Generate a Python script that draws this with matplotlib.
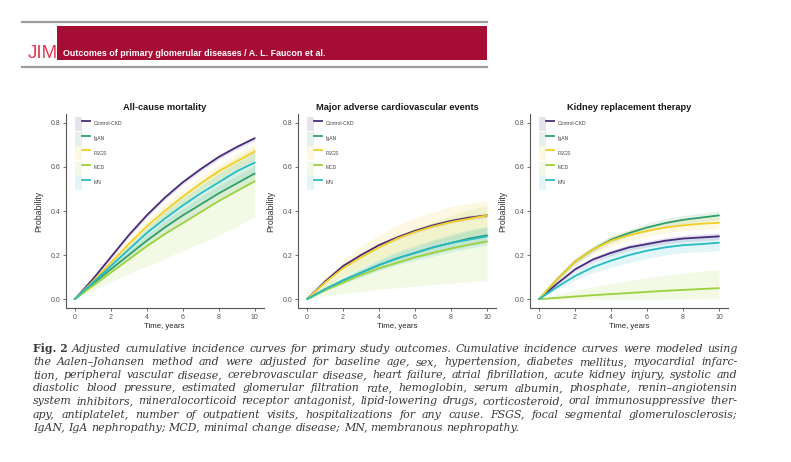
import matplotlib
matplotlib.use("Agg")
import matplotlib.pyplot as plt
from matplotlib import font_manager
from matplotlib.patches import Rectangle, Patch
from matplotlib.lines import Line2D
from matplotlib.legend_handler import HandlerTuple

W, H = 791, 462

YEARS = [0, 1, 2, 3, 4, 5, 6, 7, 8, 9, 10]
GROUPS = ["Control-CKD", "IgAN", "FSGS", "MCD", "MN"]
COLORS = ["#4a2b7c", "#2f9e6a", "#f3cf24", "#9bd23c", "#26bcc6"]
TITLES = ["All-cause mortality", "Major adverse cardiovascular events",
          "Kidney replacement therapy"]
Y_TICKS = [0.0, 0.2, 0.4, 0.6, 0.8]
X_TICKS = [0, 2, 4, 6, 8, 10]

# all-cause mortality
ACM_CONTROL = [0, 0.09, 0.19, 0.29, 0.38, 0.46, 0.53, 0.59, 0.645, 0.69, 0.73]
ACM_CONTROL_LO = [0, 0.085, 0.18, 0.28, 0.37, 0.45, 0.52, 0.58, 0.635, 0.68, 0.72]
ACM_CONTROL_HI = [0, 0.095, 0.20, 0.30, 0.39, 0.47, 0.54, 0.60, 0.655, 0.70, 0.74]
ACM_IGAN = [0, 0.07, 0.135, 0.20, 0.265, 0.325, 0.38, 0.43, 0.48, 0.525, 0.57]
ACM_IGAN_LO = [0, 0.06, 0.12, 0.18, 0.24, 0.295, 0.35, 0.40, 0.445, 0.49, 0.535]
ACM_IGAN_HI = [0, 0.08, 0.15, 0.22, 0.29, 0.355, 0.41, 0.465, 0.515, 0.56, 0.605]
ACM_FSGS = [0, 0.08, 0.165, 0.25, 0.33, 0.40, 0.465, 0.525, 0.58, 0.625, 0.67]
ACM_FSGS_LO = [0, 0.07, 0.15, 0.23, 0.305, 0.375, 0.435, 0.495, 0.545, 0.59, 0.635]
ACM_FSGS_HI = [0, 0.09, 0.18, 0.27, 0.355, 0.43, 0.495, 0.555, 0.61, 0.66, 0.705]
ACM_MCD = [0, 0.06, 0.12, 0.18, 0.24, 0.295, 0.345, 0.395, 0.445, 0.49, 0.535]
ACM_MCD_LO = [0, 0.04, 0.08, 0.115, 0.15, 0.185, 0.22, 0.255, 0.29, 0.33, 0.375]
ACM_MCD_HI = [0, 0.08, 0.165, 0.245, 0.325, 0.40, 0.47, 0.535, 0.595, 0.645, 0.69]
ACM_MN = [0, 0.075, 0.15, 0.225, 0.30, 0.365, 0.425, 0.48, 0.53, 0.58, 0.62]
ACM_MN_LO = [0, 0.065, 0.135, 0.205, 0.275, 0.335, 0.39, 0.445, 0.49, 0.535, 0.575]
ACM_MN_HI = [0, 0.085, 0.165, 0.245, 0.325, 0.395, 0.46, 0.515, 0.57, 0.62, 0.665]

# major adverse cardiovascular events
MACE_CONTROL = [0, 0.08, 0.15, 0.20, 0.245, 0.28, 0.31, 0.335, 0.355, 0.37, 0.38]
MACE_CONTROL_LO = [0, 0.075, 0.14, 0.19, 0.235, 0.27, 0.30, 0.325, 0.345, 0.36, 0.37]
MACE_CONTROL_HI = [0, 0.085, 0.16, 0.21, 0.255, 0.29, 0.32, 0.345, 0.365, 0.38, 0.39]
MACE_IGAN = [0, 0.045, 0.085, 0.12, 0.155, 0.185, 0.21, 0.235, 0.255, 0.275, 0.29]
MACE_IGAN_LO = [0, 0.04, 0.075, 0.105, 0.135, 0.16, 0.185, 0.205, 0.225, 0.24, 0.255]
MACE_IGAN_HI = [0, 0.05, 0.095, 0.135, 0.175, 0.21, 0.235, 0.265, 0.285, 0.31, 0.325]
MACE_FSGS = [0, 0.075, 0.14, 0.19, 0.235, 0.275, 0.305, 0.33, 0.35, 0.365, 0.38]
MACE_FSGS_LO = [0, 0.055, 0.105, 0.145, 0.18, 0.21, 0.235, 0.255, 0.275, 0.29, 0.305]
MACE_FSGS_HI = [0, 0.095, 0.175, 0.24, 0.29, 0.335, 0.37, 0.395, 0.42, 0.435, 0.445]
MACE_MCD = [0, 0.04, 0.075, 0.11, 0.14, 0.165, 0.19, 0.21, 0.23, 0.247, 0.262]
MACE_MCD_LO = [0, 0.015, 0.025, 0.035, 0.045, 0.052, 0.06, 0.067, 0.073, 0.079, 0.085]
MACE_MCD_HI = [0, 0.07, 0.13, 0.19, 0.24, 0.28, 0.32, 0.35, 0.38, 0.405, 0.425]
MACE_MN = [0, 0.045, 0.085, 0.12, 0.155, 0.185, 0.21, 0.235, 0.255, 0.27, 0.285]
MACE_MN_LO = [0, 0.035, 0.07, 0.10, 0.13, 0.155, 0.175, 0.195, 0.215, 0.23, 0.245]
MACE_MN_HI = [0, 0.055, 0.10, 0.14, 0.18, 0.215, 0.245, 0.27, 0.295, 0.315, 0.33]

# kidney replacement therapy
KRT_CONTROL = [0, 0.07, 0.135, 0.18, 0.21, 0.235, 0.25, 0.265, 0.275, 0.28, 0.285]
KRT_CONTROL_LO = [0, 0.062, 0.125, 0.168, 0.197, 0.222, 0.237, 0.251, 0.26, 0.265, 0.27]
KRT_CONTROL_HI = [0, 0.078, 0.145, 0.192, 0.223, 0.248, 0.263, 0.279, 0.29, 0.295, 0.30]
KRT_IGAN = [0, 0.09, 0.17, 0.225, 0.27, 0.30, 0.325, 0.345, 0.36, 0.37, 0.38]
KRT_IGAN_LO = [0, 0.08, 0.155, 0.21, 0.255, 0.285, 0.305, 0.325, 0.34, 0.35, 0.36]
KRT_IGAN_HI = [0, 0.10, 0.185, 0.24, 0.285, 0.315, 0.345, 0.365, 0.38, 0.39, 0.40]
KRT_FSGS = [0, 0.09, 0.17, 0.225, 0.265, 0.29, 0.31, 0.325, 0.335, 0.342, 0.347]
KRT_FSGS_LO = [0, 0.08, 0.155, 0.205, 0.24, 0.265, 0.285, 0.30, 0.31, 0.316, 0.32]
KRT_FSGS_HI = [0, 0.10, 0.185, 0.245, 0.29, 0.315, 0.335, 0.35, 0.36, 0.368, 0.374]
KRT_MCD = [0, 0.006, 0.012, 0.018, 0.023, 0.028, 0.033, 0.038, 0.042, 0.046, 0.05]
KRT_MCD_LO = [0, 0, 0, 0, 0, 0, 0, 0.001, 0.001, 0.002, 0.002]
KRT_MCD_HI = [0, 0.02, 0.04, 0.055, 0.07, 0.085, 0.097, 0.108, 0.118, 0.127, 0.135]
KRT_MN = [0, 0.055, 0.105, 0.145, 0.175, 0.20, 0.22, 0.235, 0.245, 0.25, 0.256]
KRT_MN_LO = [0, 0.045, 0.085, 0.12, 0.145, 0.165, 0.185, 0.20, 0.21, 0.215, 0.22]
KRT_MN_HI = [0, 0.065, 0.125, 0.17, 0.205, 0.235, 0.255, 0.27, 0.28, 0.286, 0.292]

PANELS = [
    [(ACM_CONTROL, ACM_CONTROL_LO, ACM_CONTROL_HI), (ACM_IGAN, ACM_IGAN_LO, ACM_IGAN_HI),
     (ACM_FSGS, ACM_FSGS_LO, ACM_FSGS_HI), (ACM_MCD, ACM_MCD_LO, ACM_MCD_HI),
     (ACM_MN, ACM_MN_LO, ACM_MN_HI)],
    [(MACE_CONTROL, MACE_CONTROL_LO, MACE_CONTROL_HI), (MACE_IGAN, MACE_IGAN_LO, MACE_IGAN_HI),
     (MACE_FSGS, MACE_FSGS_LO, MACE_FSGS_HI), (MACE_MCD, MACE_MCD_LO, MACE_MCD_HI),
     (MACE_MN, MACE_MN_LO, MACE_MN_HI)],
    [(KRT_CONTROL, KRT_CONTROL_LO, KRT_CONTROL_HI), (KRT_IGAN, KRT_IGAN_LO, KRT_IGAN_HI),
     (KRT_FSGS, KRT_FSGS_LO, KRT_FSGS_HI), (KRT_MCD, KRT_MCD_LO, KRT_MCD_HI),
     (KRT_MN, KRT_MN_LO, KRT_MN_HI)],
]

HEADER = "Outcomes of primary glomerular diseases / A. L. Faucon et al."
CAPTION = [
    "Fig. 2 Adjusted cumulative incidence curves for primary study outcomes. Cumulative incidence curves were modeled using",
    "the Aalen–Johansen method and were adjusted for baseline age, sex, hypertension, diabetes mellitus, myocardial infarc-",
    "tion, peripheral vascular disease, cerebrovascular disease, heart failure, atrial fibrillation, acute kidney injury, systolic and",
    "diastolic blood pressure, estimated glomerular filtration rate, hemoglobin, serum albumin, phosphate, renin–angiotensin",
    "system inhibitors, mineralocorticoid receptor antagonist, lipid-lowering drugs, corticosteroid, oral immunosuppressive ther-",
    "apy, antiplatelet, number of outpatient visits, hospitalizations for any cause. FSGS, focal segmental glomerulosclerosis;",
    "IgAN, IgA nephropathy; MCD, minimal change disease; MN, membranous nephropathy.",
]

names = {f.name for f in font_manager.fontManager.ttflist}
NARROW = "Liberation Sans Narrow" if "Liberation Sans Narrow" in names else "Liberation Sans"
plt.rcParams["font.family"] = ["Liberation Sans", "DejaVu Sans"]


def px(x, y):
    return x / W, 1 - y / H


fig = plt.figure(figsize=(W / 100, H / 100), dpi=100)
fig.patch.set_facecolor("white")

# journal header
for yy in (22, 67):
    fig.add_artist(Line2D([22 / W, 487 / W], [1 - yy / H] * 2, color="#9c9c9c", lw=1.6))
fig.add_artist(Rectangle(px(57, 60), 430 / W, 34 / H, facecolor="#a50d35",
                         edgecolor="none"))
fig.text(*px(27.5, 57.5), "JIM", color="#e2394f", fontsize=13.5, family=NARROW,
         va="baseline", ha="left")
fig.text(*px(63, 56), HEADER, color="white", fontsize=6.4, family=NARROW,
         fontweight="bold", va="baseline", ha="left")

# panels
lefts = [65.7, 298.0, 530.0]
for left, title, series in zip(lefts, TITLES, PANELS):
    ax = fig.add_axes([left / W, (H - 308) / H, 198 / W, 194 / H])
    handles = []
    for name, color, (est, lo, hi) in zip(GROUPS, COLORS, series):
        ax.fill_between(YEARS, lo, hi, color=color, alpha=0.13, lw=0)
        ax.plot(YEARS, est, color=color, lw=1.3, solid_capstyle="round")
        handles.append((Patch(facecolor=color, alpha=0.13, edgecolor="none"),
                        Line2D([], [], color=color, lw=1.3)))
    ax.set_xlim(-0.5, 10.5)
    ax.set_ylim(-0.04, 0.84)
    ax.set_xticks(X_TICKS)
    ax.set_yticks(Y_TICKS)
    ax.set_yticklabels([f"{v:.1f}" for v in Y_TICKS])
    for s in ("top", "right"):
        ax.spines[s].set_visible(False)
    for s in ("left", "bottom"):
        ax.spines[s].set_color("#555555")
        ax.spines[s].set_linewidth(0.8)
    ax.tick_params(length=2.5, width=0.6, color="#555555", labelsize=5,
                   labelcolor="#555555", pad=1.5)
    ax.set_title(title, fontsize=6.7, fontweight="bold", color="#1a1a1a", pad=3)
    ax.set_xlabel("Time, years", fontsize=5.6, color="#222222")
    ax.set_ylabel("Probability", fontsize=6.3, color="#333333")
    ax.xaxis.set_label_coords(0.5, -0.075)
    ax.yaxis.set_label_coords(-0.115, 0.5)
    ax.legend(handles, GROUPS, handler_map={tuple: HandlerTuple(ndivide=None)},
              loc="upper left", bbox_to_anchor=(0.045, 0.985), frameon=False,
              fontsize=3.6, labelcolor="#444444", handlelength=3.0,
              handleheight=4.0, labelspacing=0.08, handletextpad=0.8,
              borderpad=0, borderaxespad=0)

# caption: size chosen so the widest line fits, then each line justified
renderer = fig.canvas.get_renderer()
cap_kw = dict(family="DejaVu Serif", color="#3a3a3a", va="baseline", ha="left")
x0, x1 = 33.0, 737.5
probe = [fig.text(0, 0, ln, fontsize=10, fontstyle="italic", **cap_kw) for ln in CAPTION]
widest = max(t.get_window_extent(renderer).width for t in probe)
for t in probe:
    t.remove()
size = 10 * (x1 - x0) * 0.985 / widest

for i, line in enumerate(CAPTION):
    words = line.split()
    y = 351.8 + 13.15 * i
    texts = []
    j = 0
    while j < len(words):
        if i == 0 and j == 0:
            t = fig.text(0, 1 - y / H, "Fig. 2", fontsize=size, fontweight="bold", **cap_kw)
            j = 2
        else:
            t = fig.text(0, 1 - y / H, words[j], fontsize=size, fontstyle="italic", **cap_kw)
            j += 1
        texts.append(t)
    widths = [t.get_window_extent(renderer).width for t in texts]
    if i < len(CAPTION) - 1:
        gap = (x1 - x0 - sum(widths)) / (len(texts) - 1)
    else:
        gap = size * 100 / 72 * 0.3
    x = x0
    for t, w in zip(texts, widths):
        t.set_x(x / W)
        x += w + gap

fig.savefig("out.png", dpi=100, facecolor="white")
